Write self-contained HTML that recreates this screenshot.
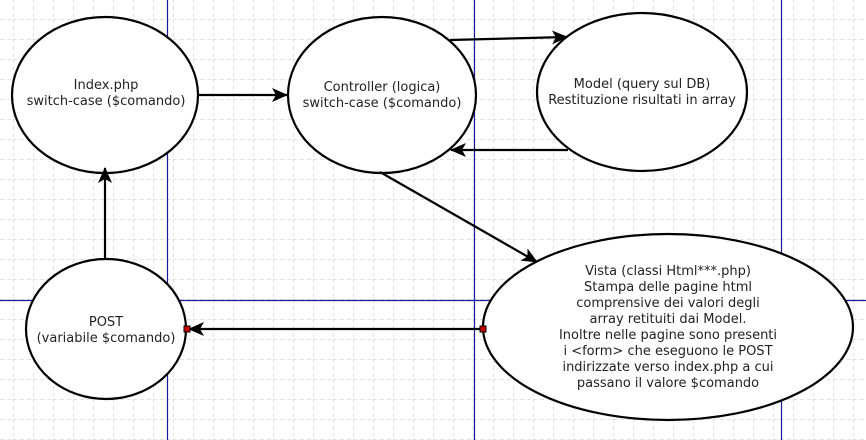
<!DOCTYPE html><html><head><style>body{margin:0}svg{display:block}text{font-family:"DejaVu Sans","Liberation Sans",sans-serif;font-size:13px;fill:#222}</style></head><body>
<svg width="866" height="440" xmlns="http://www.w3.org/2000/svg">
<defs>
<pattern id="g" width="20" height="20" patternUnits="userSpaceOnUse" x="13" y="19">
<path d="M0 0V20M0 0H20" stroke="#c4c9c9" stroke-width="1" stroke-dasharray="4,3" fill="none"/></pattern>
<marker id="a" markerWidth="16" markerHeight="14" refX="15" refY="7" orient="auto" markerUnits="userSpaceOnUse"><path d="M0 0L16 7L0 14L4 7Z" fill="#000"/></marker>
</defs>
<rect width="866" height="440" fill="#fff"/>
<rect width="866" height="440" fill="url(#g)"/>
<g stroke="#1a1aa0" stroke-width="1.2"><line x1="167.5" y1="0" x2="167.5" y2="440"/><line x1="474.5" y1="0" x2="474.5" y2="440"/><line x1="781.5" y1="0" x2="781.5" y2="440"/><line x1="0" y1="300.5" x2="866" y2="300.5"/></g>
<g fill="#fff" stroke="#000" stroke-width="2.2">
<ellipse cx="105" cy="95" rx="93" ry="78"/>
<ellipse cx="382" cy="95" rx="94" ry="78"/>
<ellipse cx="642" cy="92" rx="105" ry="79"/>
<ellipse cx="106" cy="329" rx="80" ry="70"/>
<ellipse cx="668" cy="327" rx="185" ry="93"/>
</g>
<g stroke="#000" stroke-width="2.2" marker-end="url(#a)">
<line x1="198" y1="95" x2="287" y2="95"/>
<line x1="450" y1="40" x2="567" y2="37"/>
<line x1="568" y1="150" x2="451" y2="150"/>
<line x1="380" y1="172" x2="537" y2="262"/>
<line x1="105" y1="258" x2="105" y2="168"/>
<line x1="483" y1="329" x2="189" y2="329"/>
</g>
<rect x="480" y="326" width="6" height="6" fill="#c00" stroke="#000"/>
<rect x="184" y="326" width="6" height="6" fill="#c00" stroke="#000"/>
<g text-anchor="middle">
<text x="106" y="89">Index.php</text><text x="106" y="105">switch-case ($comando)</text>
<text x="382" y="91">Controller (logica)</text><text x="382" y="107">switch-case ($comando)</text>
<text x="642" y="88">Model (query sul DB)</text><text x="642" y="104">Restituzione risultati in array</text>
<text x="106" y="326">POST</text><text x="106" y="342">(variabile $comando)</text>
<text x="668" y="275">Vista (classi Html***.php)</text>
<text x="668" y="291">Stampa delle pagine html</text>
<text x="668" y="307">comprensive dei valori degli</text>
<text x="668" y="323"> array retituiti dai Model.</text>
<text x="668" y="339">Inoltre nelle pagine sono presenti</text>
<text x="668" y="355">i &lt;form&gt; che eseguono le POST</text>
<text x="668" y="371">indirizzate verso index.php a cui</text>
<text x="668" y="387">passano il valore $comando</text>
</g>
</svg></body></html>
